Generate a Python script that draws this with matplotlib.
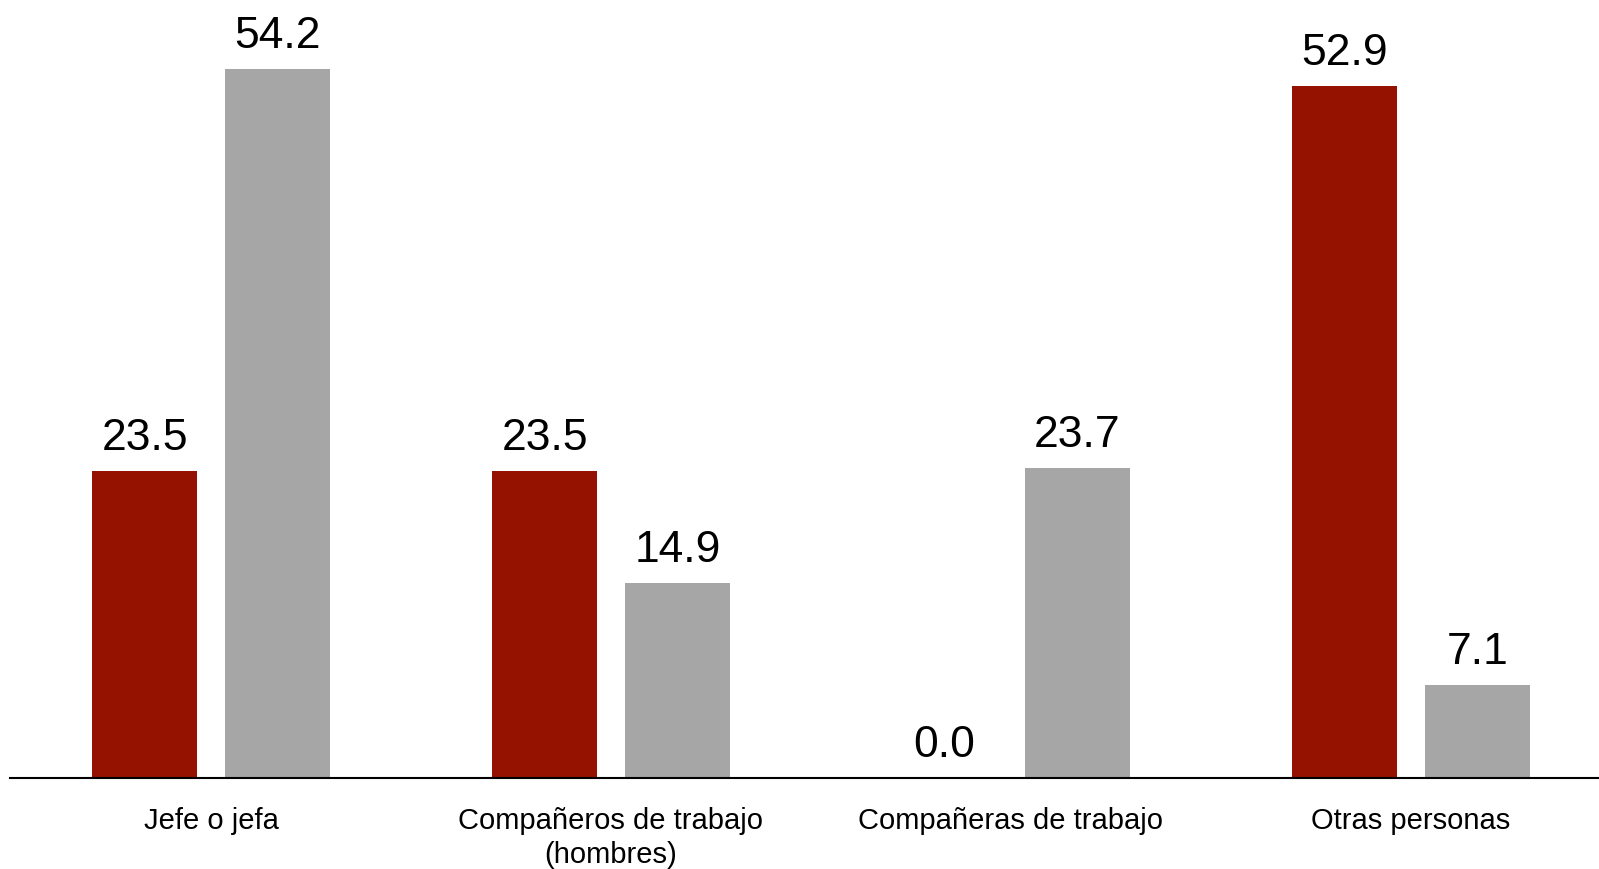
import matplotlib
matplotlib.use("Agg")
import matplotlib.pyplot as plt
import numpy as np

categories = ["Jefe o jefa", "Compañeros de trabajo\n(hombres)",
              "Compañeras de trabajo", "Otras personas"]
serie_roja = [23.5, 23.5, 0.0, 52.9]
serie_gris = [54.2, 14.9, 23.7, 7.1]

plt.rcParams["font.family"] = ["Liberation Sans", "DejaVu Sans"]

fig = plt.figure(figsize=(15.99, 8.69), dpi=100)
ax = fig.add_axes([10 / 1599, 91 / 869, 1589 / 1599, 778 / 869])

x = np.arange(len(categories))
ancho = 0.2625
desp = 0.166
b1 = ax.bar(x - desp, serie_roja, ancho, color="#951200")
b2 = ax.bar(x + desp, serie_gris, ancho, color="#A6A6A6")

# etiquetas de valor encima de cada barra
for barras in (b1, b2):
    for b in barras:
        ax.annotate(f"{b.get_height():.1f}",
                    (b.get_x() + b.get_width() / 2, b.get_height()),
                    xytext=(0, 8.5), textcoords="offset points",
                    ha="center", va="bottom", fontsize=32, color="black")

ax.set_xlim(-0.5025, 3.47)
ax.set_ylim(0, 59.5)
ax.set_xticks(x)
ax.set_xticklabels(categories, fontsize=21, linespacing=1.25)
ax.tick_params(axis="x", length=0, pad=21)
ax.set_yticks([])
for s in ("top", "right", "left"):
    ax.spines[s].set_visible(False)
ax.spines["bottom"].set_linewidth(1.5)
ax.spines["bottom"].set_color("black")

fig.savefig("out.png", dpi=100)
